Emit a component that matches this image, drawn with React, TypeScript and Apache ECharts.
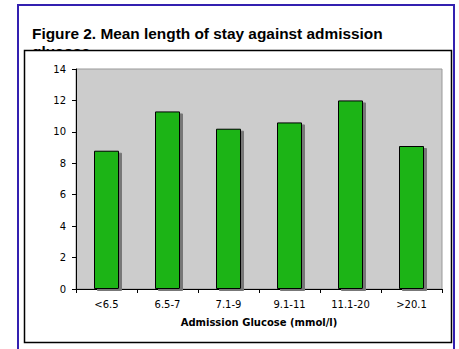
import React, { useEffect, useRef } from "react";
import * as echarts from "echarts";

const categories = ["<6.5", "6.5-7", "7.1-9", "9.1-11", "11.1-20", ">20.1"];
const meanStay = [8.8, 11.3, 10.2, 10.6, 12.0, 9.1];
const titleText = "Figure 2. Mean length of stay against admission\nglucose";
const xAxisTitle = "Admission Glucose (mmol/l)";

export default function App() {
  const ref = useRef<HTMLDivElement>(null);
  useEffect(() => {
    document.body.style.margin = "0";
    const chart = echarts.init(ref.current!, null, { renderer: "svg" });
    chart.setOption({
      animation: false,
      backgroundColor: "#ffffff",
      graphic: [
        {
          type: "rect",
          z: -5,
          x: 18,
          y: 5,
          shape: { x: 0, y: 0, width: 436, height: 420 },
          style: { fill: "#ffffff", stroke: "#3320b0", lineWidth: 2 },
        },
        {
          type: "text",
          z: -4,
          x: 32,
          y: 24,
          style: {
            text: titleText,
            font: "bold 15.4px 'Liberation Sans', Arial, sans-serif",
            lineHeight: 18,
            fill: "#000000",
          },
        },
        {
          type: "rect",
          z: -3,
          x: 24.5,
          y: 50.5,
          shape: { x: 0, y: 0, width: 427, height: 292 },
          style: { fill: "#ffffff", stroke: "#000000", lineWidth: 1.5 },
        },
      ],
      grid: {
        left: 76,
        top: 69,
        right: 17,
        bottom: 60,
        show: true,
        backgroundColor: "#cccccc",
        borderColor: "#999999",
        borderWidth: 1,
      },
      xAxis: {
        type: "category",
        data: categories,
        name: xAxisTitle,
        nameLocation: "middle",
        nameGap: 28,
        nameTextStyle: {
          fontFamily: "'DejaVu Sans', Verdana, sans-serif",
          fontWeight: "bold",
          fontSize: 10,
          color: "#000000",
        },
        axisLine: { lineStyle: { color: "#000000", width: 1 } },
        axisTick: { show: true, length: 4, lineStyle: { color: "#000000" } },
        axisLabel: {
          margin: 10,
          fontFamily: "'DejaVu Sans', Verdana, sans-serif",
          fontSize: 10,
          color: "#000000",
        },
        splitLine: { show: false },
      },
      yAxis: {
        type: "value",
        min: 0,
        max: 14,
        interval: 2,
        axisLine: { show: true, lineStyle: { color: "#000000", width: 1 } },
        axisTick: { show: true, length: 4, lineStyle: { color: "#000000" } },
        axisLabel: {
          margin: 10,
          fontFamily: "'DejaVu Sans', Verdana, sans-serif",
          fontSize: 10,
          color: "#000000",
        },
        splitLine: { show: false },
      },
      series: [
        {
          type: "bar",
          data: meanStay,
          barWidth: 25,
          itemStyle: {
            color: "#1fb417",
            borderColor: "#000000",
            borderWidth: 1,
            shadowColor: "#777777",
            shadowBlur: 0,
            shadowOffsetX: 3,
            shadowOffsetY: 2,
          },
        },
      ],
    });
    return () => chart.dispose();
  }, []);
  return (
    <div
      ref={ref}
      style={{ position: "absolute", left: 0, top: 0, width: 459, height: 349 }}
    />
  );
}
